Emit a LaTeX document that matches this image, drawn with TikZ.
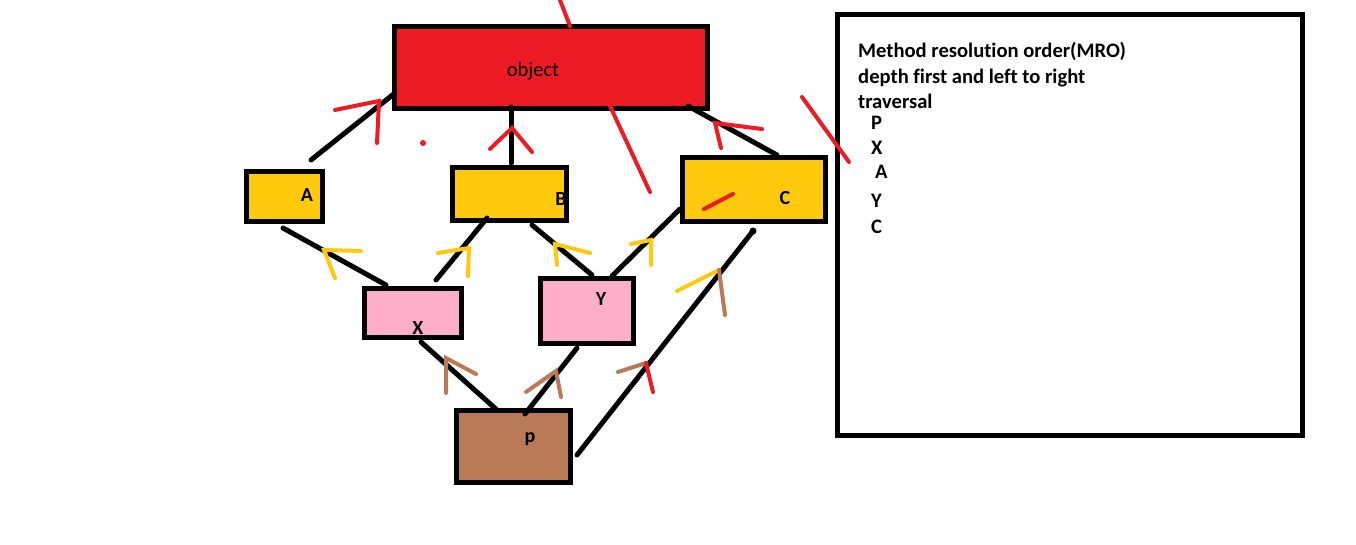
\documentclass[tikz,border=0pt]{standalone}
\usepackage{fontspec}
\setmainfont{Carlito}[Ligatures={NoCommon}]
\definecolor{pred}{HTML}{ED1C24}
\definecolor{pyel}{HTML}{FFC90E}
\definecolor{ppink}{HTML}{FFAEC9}
\definecolor{pbrown}{HTML}{B97A57}
\begin{document}
\begin{tikzpicture}[x=1pt,y=-1pt,
  box/.style={draw=black,line width=5pt,rectangle,inner sep=0pt},
  link/.style={draw=black,line width=5pt,line cap=round},
  redpen/.style={draw=pred,line width=4pt,line cap=round},
  yelpen/.style={draw=pyel,line width=4pt,line cap=round},
  brownpen/.style={draw=pbrown,line width=4pt,line cap=round},
  lbl/.style={font=\fontsize{20}{22}\selectfont\bfseries,inner sep=0pt},
  mro/.style={font=\fontsize{20.6}{25}\selectfont\bfseries,inner sep=0pt,anchor=base west}]
\useasboundingbox[fill=white] (0,0) rectangle (1356,544);
% boxes
\node[box,fill=pred,minimum width=313pt,minimum height=82pt] (obj) at (551,67.5) {};
\node[box,fill=pyel,minimum width=76pt,minimum height=50pt] (A) at (284.5,196.5) {};
\node[box,fill=pyel,minimum width=114pt,minimum height=53pt] (B) at (509.5,194) {};
\node[box,fill=pyel,minimum width=143pt,minimum height=64pt] (C) at (754,189.5) {};
\node[box,fill=ppink,minimum width=97pt,minimum height=49pt] (X) at (413,313) {};
\node[box,fill=ppink,minimum width=93pt,minimum height=65pt] (Y) at (587,311) {};
\node[box,fill=pbrown,minimum width=114pt,minimum height=72pt] (P) at (513.5,446.5) {};
\node[box,fill=white,minimum width=465pt,minimum height=421pt] (mrobox) at (1070,225) {};
% labels
\node[lbl,font=\fontsize{20.5}{22}\selectfont] (objl) at (533,71) {object};
\node[lbl] (Al) at (307,195) {A};
\node[lbl] (Bl) at (561,199) {B};
\node[lbl] (Cl) at (785,198) {C};
\node[lbl] (Xl) at (418,328) {X};
\node[lbl] (Yl) at (601,299) {Y};
\node[lbl] (Pl) at (530,439) {p};
% connector end points
\coordinate (a1) at (311,160); \coordinate (o1) at (395,93);
\coordinate (b1) at (511,163); \coordinate (o2) at (511,107);
\coordinate (c1) at (777,155); \coordinate (o3) at (688,106);
\coordinate (x1) at (386,285); \coordinate (a2) at (283,228);
\coordinate (x2) at (436,280); \coordinate (b2) at (487,218);
\coordinate (y1) at (592,275); \coordinate (b3) at (532,225);
\coordinate (y2) at (612,276); \coordinate (c2) at (680,209);
\coordinate (p1) at (497,410); \coordinate (x3) at (421,342);
\coordinate (p2) at (525,414); \coordinate (y3) at (577,348);
\coordinate (p3) at (577,455); \coordinate (c3) at (753,231);
\draw[link] (a1) -- (o1);
\draw[link] (b1) -- (o2);
\draw[link] (c1) -- (o3);
\draw[link] (x1) -- (a2);
\draw[link] (x2) -- (b2);
\draw[link] (y1) -- (b3);
\draw[link] (y2) -- (c2);
\draw[link] (p1) -- (x3);
\draw[link] (p2) -- (y3);
\draw[link] (p3) -- (c3);
\fill (c3) circle (3.5pt);
% red pen strokes
\draw[redpen] (335,110) -- (379,101) -- (377,143);
\draw[redpen] (490,149) -- (512,128) -- (532,152);
\draw[redpen] (762,129) -- (715,123) -- (721,148);
\draw[redpen] (560,0) -- (570,26);
\draw[redpen] (610,106) -- (650,192);
\draw[redpen] (802,97) -- (849,162);
\draw[redpen] (704,209) -- (733,194);
\fill[pred] (423,143) circle (3pt);
% yellow pen strokes
\draw[yelpen] (361,251) -- (324,250) -- (335,278);
\draw[yelpen] (438,253) -- (469,248) -- (468,276);
\draw[yelpen] (590,253) -- (555,244) -- (557,265);
\draw[yelpen] (631,244) -- (651,240) -- (651,265);
\draw[yelpen] (677,291) -- (719,270);
% brown pen strokes
\draw[brownpen] (476,374) -- (446,358) -- (446,393);
\draw[brownpen] (526,392) -- (556,371) -- (561,397);
\draw[brownpen] (618,372) -- (646,363);
\draw[redpen] (646,363) -- (653,392);
\draw[brownpen] (719,270) -- (725,315);
% MRO text
\node[mro] (t1) at (858,57) {Method resolution order(MRO)};
\node[mro] (t2) at (858,83) {depth first and left to right};
\node[mro] (t3) at (858,108) {traversal};
\node[mro] (m1) at (871,129) {P};
\node[mro] (m2) at (871,154.5) {X};
\node[mro] (m3) at (875,178.5) {A};
\node[mro] (m4) at (871,207) {Y};
\node[mro] (m5) at (871,233) {C};
\end{tikzpicture}
\end{document}
